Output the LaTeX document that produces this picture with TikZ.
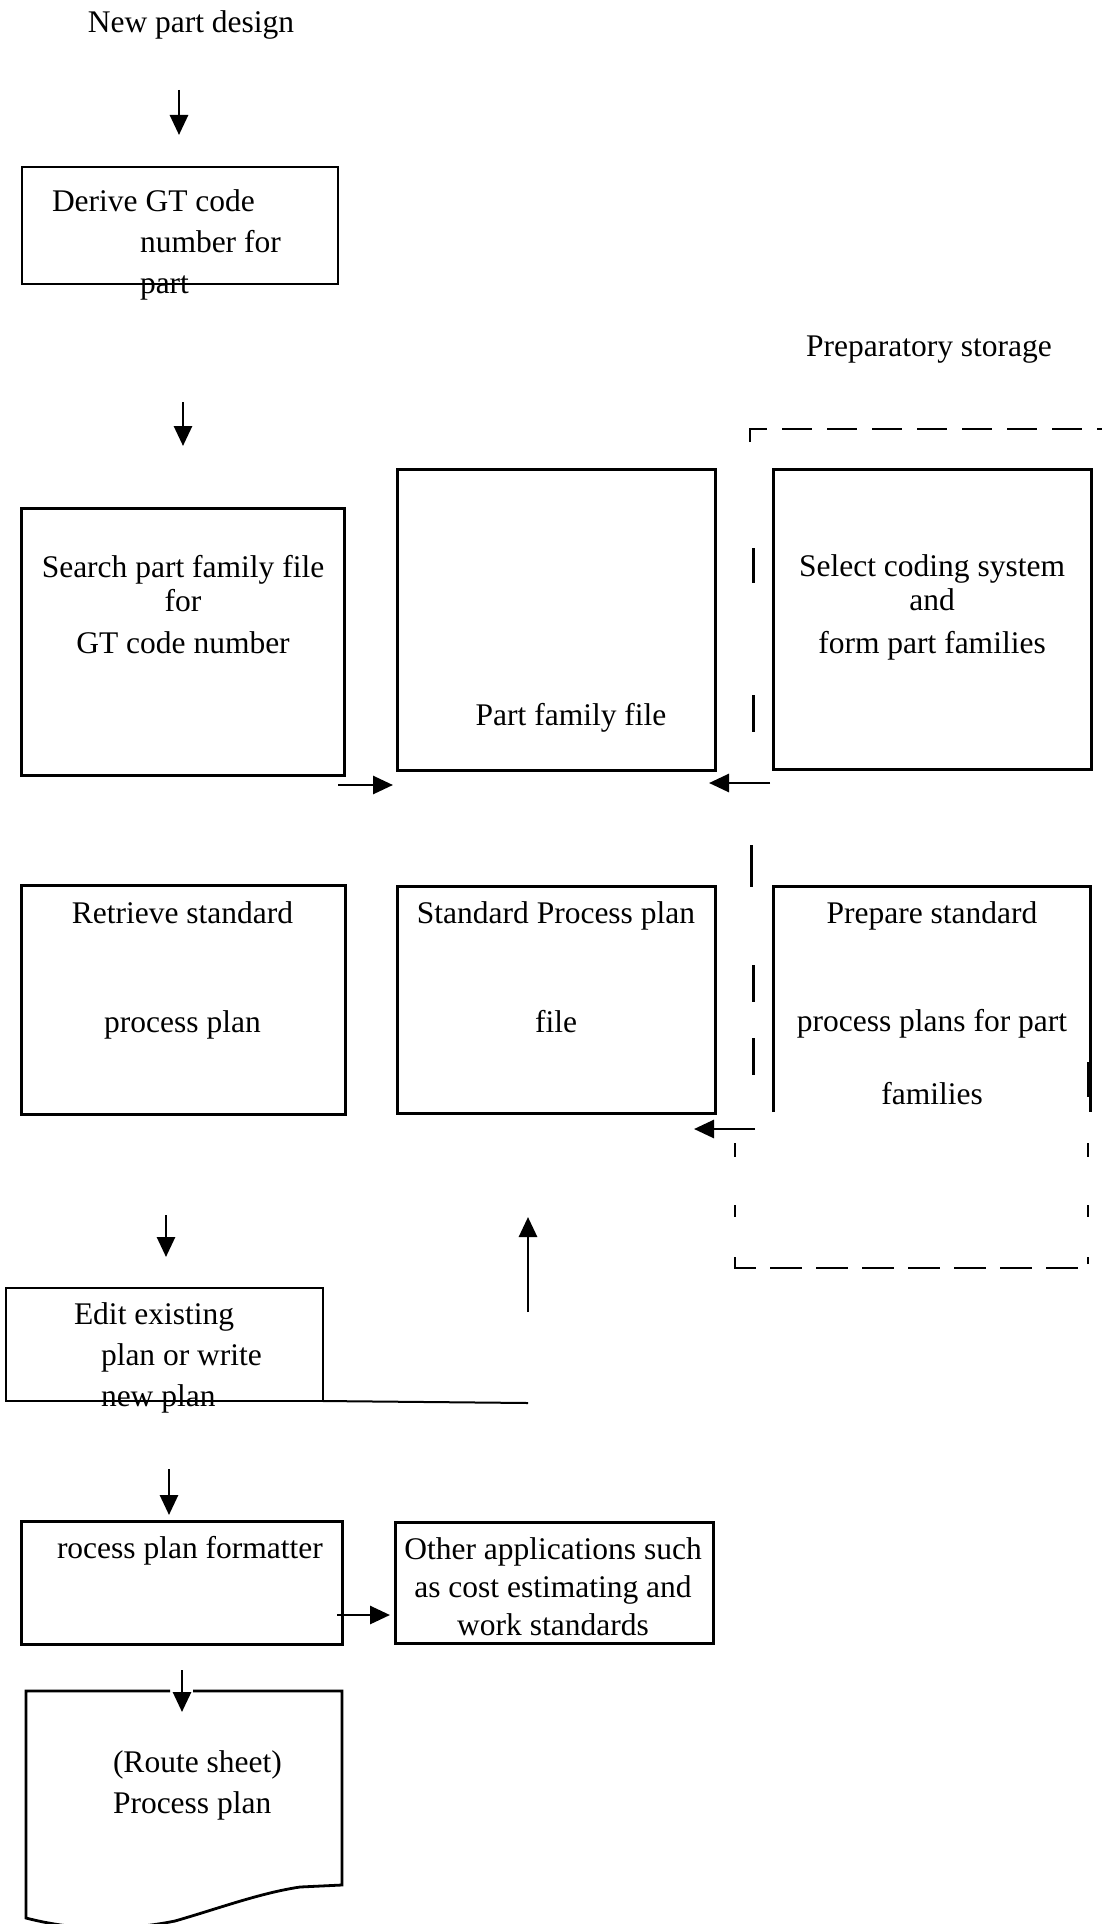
\documentclass[tikz,border=0pt]{standalone}
\usepackage{fontspec}
\setmainfont{Liberation Serif}
\usetikzlibrary{arrows.meta}
\begin{document}
\begin{tikzpicture}[x=1pt,y=-1pt,
  boxthick/.style={draw, line width=3pt, inner sep=0pt, outer sep=0pt},
  boxthin/.style={draw, line width=2pt, inner sep=0pt, outer sep=0pt},
  boxnone/.style={inner sep=0pt, outer sep=0pt},
  lbl/.style={inner sep=0pt, outer sep=0pt, anchor=base, font=\fontsize{31.5}{38}\selectfont},
  lblw/.style={lbl, anchor=base west},
  arr/.style={line width=2.8pt, -{Triangle[length=20pt,width=18pt]}},
  dashline/.style={line width=2.2pt, dash pattern=on 30pt off 15pt},
  dashthin/.style={line width=1.8pt},
  dashtick/.style={line width=3pt}
]
\useasboundingbox (0,0) rectangle (1102,1924);

% ---------- boxes ----------
\node[boxthin,  minimum width=316pt, minimum height=117pt] (derive)    at (180,225.5) {};
\node[boxthick, minimum width=323pt, minimum height=267pt] (search)    at (182.5,641.5) {};
\node[boxthick, minimum width=318pt, minimum height=301pt] (pff)       at (556,619.5) {};
\node[boxthick, minimum width=318pt, minimum height=300pt] (select)    at (932,619) {};
\node[boxthick, minimum width=324pt, minimum height=229pt] (retrieve)  at (183,999.5) {};
\node[boxthick, minimum width=318pt, minimum height=227pt] (spp)       at (556,999.5) {};
\node[boxnone,  minimum width=317pt, minimum height=226pt] (prepare)   at (931.5,999) {};
\draw[line width=3pt] (prepare.south west) -- (prepare.north west) -- (prepare.north east) -- (prepare.south east);
\node[boxthin,  minimum width=317pt, minimum height=113pt] (edit)      at (164.5,1344.5) {};
\node[boxthick, minimum width=321pt, minimum height=123pt] (formatter) at (181.5,1582.5) {};
\node[boxthick, minimum width=318pt, minimum height=121pt] (other)     at (554,1582.5) {};

% document shape (route sheet)
\coordinate (docTL) at (26,1691);
\coordinate (docTR) at (342,1691);
\coordinate (docGapL) at (170,1691);
\coordinate (docGapR) at (193,1691);
\draw[line width=2.8pt] (docGapL) -- (docTL) -- (26,1918)
  .. controls (80,1932) and (130,1930) .. (175,1921)
  .. controls (220,1908) and (260,1893) .. (300,1887) -- (342,1885) -- (docTR) -- (docGapR);

% ---------- texts ----------
\node[lbl]  (tnew)  at (191,33) {New part design};
\node[lblw] (td1)   at (52,211)  {Derive GT code};
\node[lblw] (td2)   at (140,252) {number for};
\node[lblw] (td3)   at (140,293) {part};
\node[lbl]  (tprep) at (929,356) {Preparatory storage};

\node[lbl] (ts1) at (183,577) {Search part family file};
\node[lbl] (ts2) at (183,611) {for};
\node[lbl] (ts3) at (183,653) {GT code number};

\node[lbl] (tpff) at (571,725) {Part family file};

\node[lbl] (tsel1) at (932,576) {Select coding system};
\node[lbl] (tsel2) at (932,610) {and};
\node[lbl] (tsel3) at (932,653) {form part families};

\node[lbl] (tr1) at (182.5,923)  {Retrieve standard};
\node[lbl] (tr2) at (182.5,1032) {process plan};

\node[lbl] (tspp1) at (556,923)  {Standard Process plan};
\node[lbl] (tspp2) at (556,1032) {file};

\node[lbl] (tpr1) at (932,923)  {Prepare standard};
\node[lbl] (tpr2) at (932,1031) {process plans for part};
\node[lbl] (tpr3) at (932,1104) {families};

\node[lblw] (te1) at (74,1324)  {Edit existing};
\node[lblw] (te2) at (101,1365) {plan or write};
\node[lblw] (te3) at (101,1406) {new plan};

\node[lblw] (tf) at (57,1558) {rocess plan formatter};

\node[lbl] (to1) at (553,1559) {Other applications such};
\node[lbl] (to2) at (553,1597) {as cost estimating and};
\node[lbl] (to3) at (553,1635) {work standards};

\node[lblw] (trt1) at (113,1772) {(Route sheet)};
\node[lblw] (trt2) at (113,1813) {Process plan};

% ---------- arrows ----------
\coordinate (a1s) at (179,90);   \coordinate (a1e) at (179,135);
\coordinate (a2s) at (183,402);  \coordinate (a2e) at (183,446);
\coordinate (a3s) at (338,785);  \coordinate (a3e) at (393,785);
\coordinate (a4s) at (770,783);  \coordinate (a4e) at (709,783);
\coordinate (a5s) at (755,1129); \coordinate (a5e) at (694,1129);
\coordinate (a6s) at (528,1312); \coordinate (a6e) at (528,1217);
\coordinate (a7s) at (166,1215); \coordinate (a7e) at (166,1257);
\coordinate (a8s) at (169,1469); \coordinate (a8e) at (169,1515);
\coordinate (a9s) at (337,1615); \coordinate (a9e) at (390,1615);
\coordinate (a10s) at (182,1670); \coordinate (a10e) at (182,1712);
\draw[arr] (a1s) -- (a1e);
\draw[arr] (a2s) -- (a2e);
\draw[arr] (a3s) -- (a3e);
\draw[arr] (a4s) -- (a4e);
\draw[arr] (a5s) -- (a5e);
\draw[arr] (a6s) -- (a6e);
\draw[arr] (a7s) -- (a7e);
\draw[arr] (a8s) -- (a8e);
\draw[arr] (a9s) -- (a9e);
\draw[arr] (a10s) -- (a10e);

% line from edit box to up arrow
\coordinate (eline) at (528,1403);
\draw[line width=2pt] (edit.south east) -- (eline);

% ---------- preparatory storage dashed boundary ----------
\draw[dashline] (750,442) -- (750,429) -- (1102,429);
\draw[dashtick] (753,548) -- (753,583);
\draw[dashtick] (753,695) -- (753,732);
\draw[dashtick] (751,845) -- (751,887);
\draw[dashtick] (753,965) -- (753,1002);
\draw[dashtick] (753,1038) -- (753,1075);
\draw[dashtick] (1088,1062) -- (1088,1097);
\draw[dashthin] (735,1143) -- (735,1157);
\draw[dashthin] (735,1205) -- (735,1217);
\draw[dashthin] (1088,1143) -- (1088,1157);
\draw[dashthin] (1088,1205) -- (1088,1217);
\draw[dashthin, dash pattern=on 32pt off 14pt] (735,1257) -- (735,1268) -- (1088,1268) -- (1088,1257);
\end{tikzpicture}
\end{document}
